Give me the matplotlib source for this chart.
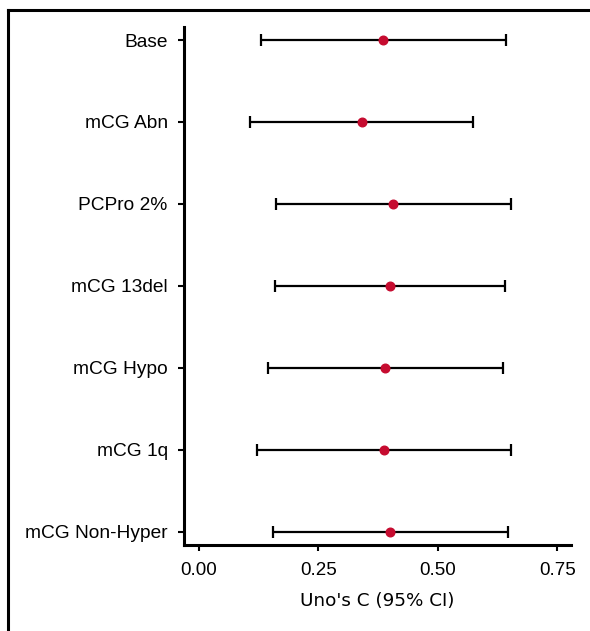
import matplotlib
matplotlib.use("Agg")
import matplotlib.pyplot as plt
from matplotlib.lines import Line2D

# Uno's C estimates with 95% confidence limits, one row per model
models = ["Base", "mCG Abn", "PCPro 2%", "mCG 13del", "mCG Hypo", "mCG 1q", "mCG Non-Hyper"]
uno_c = [0.386, 0.341, 0.406, 0.399, 0.390, 0.388, 0.400]
ci_low = [0.130, 0.107, 0.161, 0.158, 0.144, 0.122, 0.154]
ci_high = [0.643, 0.574, 0.652, 0.641, 0.636, 0.654, 0.647]
xticks = [0.00, 0.25, 0.50, 0.75]

plt.rcParams["font.family"] = ["Liberation Sans", "DejaVu Sans"]

fig = plt.figure(figsize=(5.9, 6.31), dpi=100)
ax = fig.add_axes([0.3124, 0.1363, 0.6549, 0.8214])

ypos = list(range(len(models)))
err = [[c - lo for c, lo in zip(uno_c, ci_low)],
       [hi - c for c, hi in zip(uno_c, ci_high)]]
ax.errorbar(uno_c, ypos, xerr=err, fmt="none", ecolor="black",
            elinewidth=1.6, capsize=4, capthick=1.6, zorder=2)
ax.plot(uno_c, ypos, "o", color="#C60C30", markersize=6.2, zorder=3)

ax.set_yticks(ypos)
ax.set_yticklabels(models, fontsize=13.8)
ax.set_ylim(len(models) - 1 + 0.163, -0.163)
ax.set_xlim(-0.0308, 0.778)
ax.set_xticks(xticks)
ax.set_xticklabels([f"{t:.2f}" for t in xticks], fontsize=13.5)
ax.set_xlabel("Uno's C (95% CI)", fontsize=13.2, family="DejaVu Sans", labelpad=9)

for side in ("top", "right"):
    ax.spines[side].set_visible(False)
for side in ("left", "bottom"):
    ax.spines[side].set_linewidth(2.2)
ax.tick_params(axis="both", length=4.5, width=1.5, colors="black")
ax.tick_params(axis="y", pad=7.5)
ax.tick_params(axis="x", pad=8)

# outer frame: top and left edges only
fig.add_artist(Line2D([0.0136, 0.0136], [0.0, 0.984], transform=fig.transFigure,
                      color="black", linewidth=2.2))
fig.add_artist(Line2D([0.0136, 1.0], [0.984, 0.984], transform=fig.transFigure,
                      color="black", linewidth=2.2))

fig.savefig("out.png", dpi=100)
